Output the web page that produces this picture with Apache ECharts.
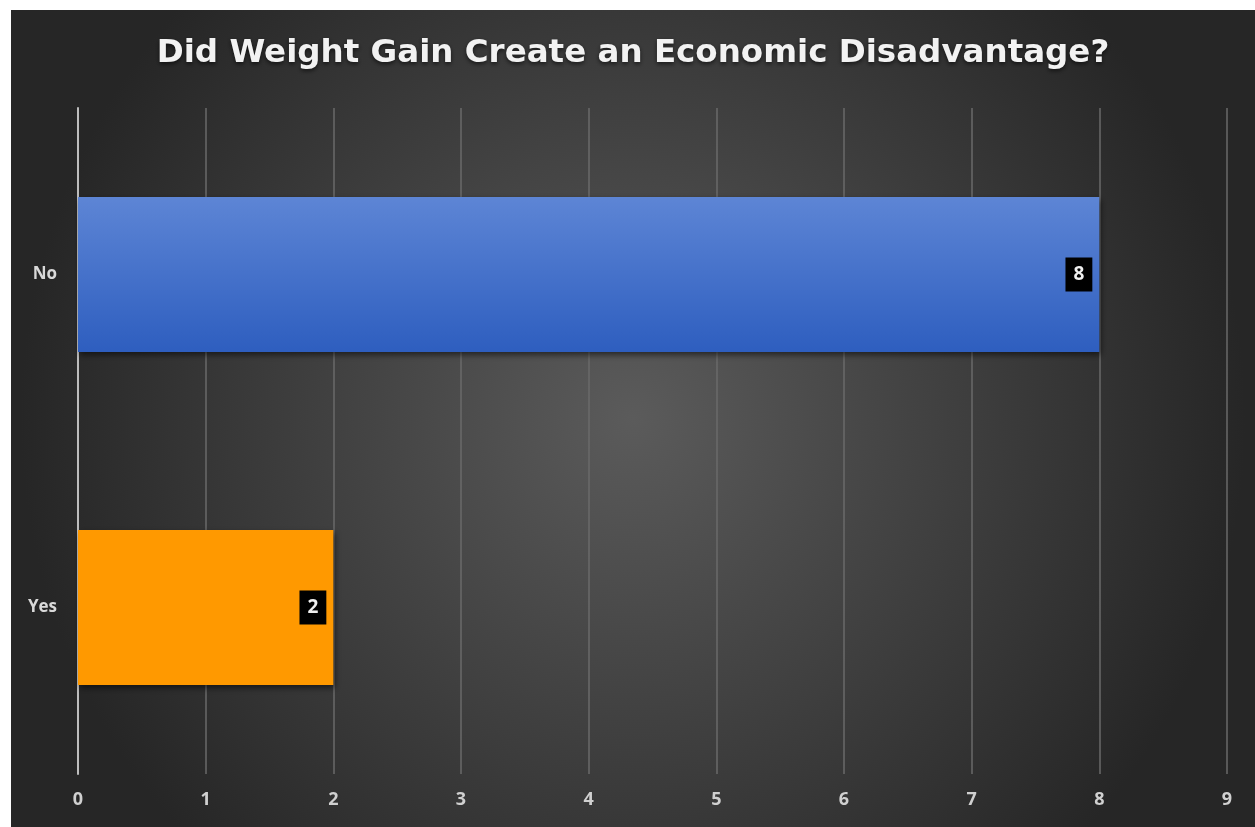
<!DOCTYPE html>
<html>
<head>
<meta charset="utf-8">
<script src="https://cdn.jsdelivr.net/npm/echarts@6/dist/echarts.min.js"></script>
<style>
html, body { margin: 0; padding: 0; background: #fff; }
#chart { position: absolute; left: 11px; top: 10px; width: 1244px; height: 817px; }
</style>
</head>
<body>
<div id="chart"></div>
<script>
// data
var categories = ['No', 'Yes'];
var values = [8, 2];
var barColors = [
  new echarts.graphic.LinearGradient(0, 0, 0, 1, [
    { offset: 0, color: '#5d85d5' },
    { offset: 1, color: '#2e5ebf' }
  ]),
  '#ff9900'
];
var xTicks = [0, 9];

var myChart = echarts.init(document.getElementById('chart'));
var option = {
  backgroundColor: new echarts.graphic.RadialGradient(0.5, 0.5, 0.75, [
    { offset: 0, color: '#5b5b5b' },
    { offset: 1, color: '#262626' }
  ]),
  title: {
    text: 'Did Weight Gain Create an Economic Disadvantage?',
    left: 'center',
    top: 22,
    textStyle: {
      color: '#f2f2f2',
      fontFamily: 'DejaVu Sans',
      fontWeight: 'bold',
      fontSize: 32.5,
      textShadowColor: 'rgba(0,0,0,0.6)',
      textShadowBlur: 4,
      textShadowOffsetY: 2
    }
  },
  grid: {
    left: 67,
    right: 28,
    top: 98,
    bottom: 53
  },
  xAxis: {
    type: 'value',
    min: xTicks[0],
    max: xTicks[1],
    interval: 1,
    axisLine: { show: false },
    axisTick: { show: false },
    axisLabel: {
      color: '#d0d0d0',
      fontFamily: 'Open Sans',
      fontWeight: 'bold',
      fontSize: 18,
      margin: 17
    },
    splitLine: {
      lineStyle: { color: '#6a6a6a', width: 1.5 }
    }
  },
  yAxis: {
    type: 'category',
    data: categories,
    inverse: true,
    axisLine: { lineStyle: { color: '#bdbdbd', width: 2 } },
    axisTick: { show: false },
    axisLabel: {
      color: '#d9d9d9',
      fontFamily: 'Open Sans',
      fontWeight: 'bold',
      fontSize: 17,
      margin: 21
    }
  },
  series: [{
    type: 'bar',
    data: values.map(function (v, i) {
      return { value: v, itemStyle: { color: barColors[i] } };
    }),
    barWidth: '46.5%',
    itemStyle: {
      shadowColor: 'rgba(0,0,0,0.55)',
      shadowBlur: 6,
      shadowOffsetX: 2,
      shadowOffsetY: 3
    },
    label: {
      show: true,
      position: 'insideRight',
      distance: 7,
      backgroundColor: '#000',
      color: '#f0f0f0',
      fontFamily: 'Open Sans',
      fontWeight: 'bold',
      fontSize: 19,
      padding: [8, 8, 7, 8]
    }
  }]
};
myChart.setOption(option);
window.addEventListener('resize', function () {
  myChart.resize();
});
</script>
</body>
</html>
